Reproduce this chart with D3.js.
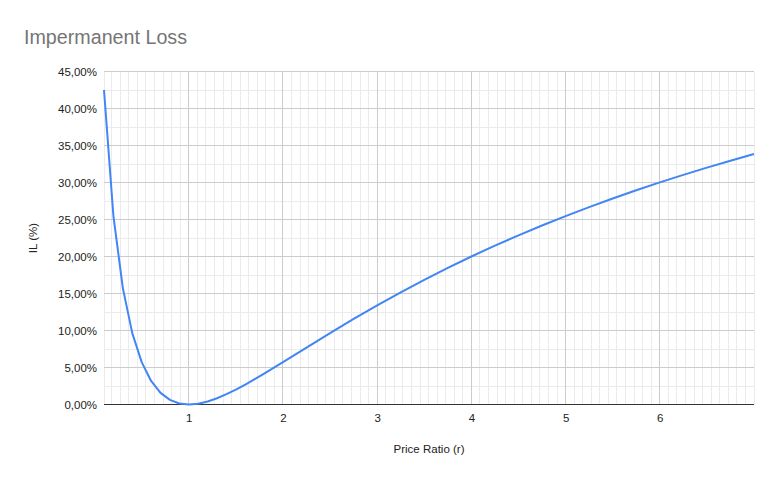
<!DOCTYPE html>
<html>
<head>
<meta charset="utf-8">
<script src="https://cdn.jsdelivr.net/npm/d3@7"></script>
<style>
  html, body { margin: 0; padding: 0; background: #fff; }
  svg { display: block; font-family: "Liberation Sans", Arial, sans-serif; }
</style>
</head>
<body>
<svg id="chart" width="778" height="481"></svg>
<script>
// Price ratio (r) values
const ratios = [0.1, 0.2, 0.3, 0.4, 0.5, 0.6, 0.7, 0.8, 0.9, 1.0,
  1.1, 1.2, 1.3, 1.4, 1.5, 1.6, 1.7, 1.8, 1.9, 2.0,
  2.25, 2.5, 2.75, 3.0, 3.25, 3.5, 3.75, 4.0, 4.25, 4.5, 4.75,
  5.0, 5.25, 5.5, 5.75, 6.0, 6.25, 6.5, 6.75, 7.0];
// Impermanent loss (fraction)
const ilValues = [0.4250, 0.2546, 0.1573, 0.0965, 0.0572, 0.0318, 0.0157, 0.0062, 0.0014, 0.0000,
  0.0011, 0.0041, 0.0085, 0.0140, 0.0202, 0.0270, 0.0342, 0.0417, 0.0494, 0.0572,
  0.0769, 0.0965, 0.1156, 0.1340, 0.1516, 0.1685, 0.1846, 0.2000, 0.2147, 0.2286, 0.2419,
  0.2546, 0.2668, 0.2784, 0.2895, 0.3001, 0.3103, 0.3201, 0.3295, 0.3386];
const xTicks = [1, 2, 3, 4, 5, 6];
const yTicks = [0, 0.05, 0.10, 0.15, 0.20, 0.25, 0.30, 0.35, 0.40, 0.45];
const chartTitle = "Impermanent Loss";
const xTitle = "Price Ratio (r)";
const yTitle = "IL (%)";

const data = ratios.map((r, i) => ({ r, v: ilValues[i] }));
const svg = d3.select("#chart");
const pLeft = 104, pRight = 754, pTop = 71.5, pBottom = 404.5;

const x = d3.scaleLinear().domain([0.1, 7]).range([pLeft, pRight]);
const y = d3.scaleLinear().domain([0, 0.45]).range([pBottom, pTop]);

const fmt = v => (v * 100).toFixed(2).replace(".", ",") + "%";

// minor x gridlines (11 subdivisions per unit)
const minorX = [];
for (let k = 1; k <= 77; k++) {
  const v = k / 11;
  if (v > 0.1 && v < 7 && k % 11 !== 0) minorX.push(v);
}
svg.append("g").selectAll("line").data(minorX).join("line")
  .attr("x1", d => x(d)).attr("x2", d => x(d))
  .attr("y1", pTop).attr("y2", pBottom)
  .attr("stroke", "#ebebeb").attr("stroke-width", 1).attr("shape-rendering", "crispEdges");
// edge lines
svg.append("g").selectAll("line").data([0.1, 7]).join("line")
  .attr("x1", d => x(d)).attr("x2", d => x(d))
  .attr("y1", pTop).attr("y2", pBottom)
  .attr("stroke", "#ebebeb").attr("stroke-width", 1).attr("shape-rendering", "crispEdges");

// minor y gridlines
const minorY = yTicks.slice(0, -1).map(v => v + 0.025);
svg.append("g").selectAll("line").data(minorY).join("line")
  .attr("x1", pLeft).attr("x2", pRight)
  .attr("y1", d => y(d)).attr("y2", d => y(d))
  .attr("stroke", "#ebebeb").attr("stroke-width", 1).attr("shape-rendering", "crispEdges");

// major x gridlines
svg.append("g").selectAll("line").data(xTicks).join("line")
  .attr("x1", d => x(d)).attr("x2", d => x(d))
  .attr("y1", pTop).attr("y2", pBottom)
  .attr("stroke", "#cccccc").attr("stroke-width", 1).attr("shape-rendering", "crispEdges");

// major y gridlines
svg.append("g").selectAll("line").data(yTicks.filter(v => v > 0)).join("line")
  .attr("x1", pLeft).attr("x2", pRight)
  .attr("y1", d => y(d)).attr("y2", d => y(d))
  .attr("stroke", "#cccccc").attr("stroke-width", 1).attr("shape-rendering", "crispEdges");

// baseline
svg.append("line")
  .attr("x1", pLeft).attr("x2", pRight)
  .attr("y1", y(0)).attr("y2", y(0))
  .attr("stroke", "#333333").attr("stroke-width", 1.2).attr("shape-rendering", "crispEdges");

// y axis labels
const yAxis = d3.axisLeft(y).tickValues(yTicks).tickFormat(fmt).tickSize(0).tickPadding(7);
const gy = svg.append("g").attr("transform", `translate(${pLeft},0)`).call(yAxis);
gy.select(".domain").remove();
gy.selectAll("text").attr("font-size", 11.5).attr("fill", "#222").attr("font-family", "Liberation Sans, Arial, sans-serif");

// x axis labels
const xAxis = d3.axisBottom(x).tickValues(xTicks).tickFormat(d3.format("d")).tickSize(0).tickPadding(9);
const gx = svg.append("g").attr("transform", `translate(0,${pBottom})`).call(xAxis);
gx.select(".domain").remove();
gx.selectAll("text").attr("font-size", 11.5).attr("fill", "#222").attr("font-family", "Liberation Sans, Arial, sans-serif");

// line
svg.append("path").datum(data)
  .attr("fill", "none").attr("stroke", "#4285f4").attr("stroke-width", 2)
  .attr("stroke-linejoin", "round")
  .attr("d", d3.line().x(d => x(d.r)).y(d => y(d.v)));

// titles
svg.append("text").attr("x", 24).attr("y", 44).text(chartTitle)
  .attr("font-size", 19.7).attr("fill", "#757575");
svg.append("text").attr("x", (pLeft + pRight) / 2).attr("y", 453).attr("text-anchor", "middle")
  .text(xTitle).attr("font-size", 11.5).attr("fill", "#222");
svg.append("text").attr("transform", `translate(37,${(pTop + pBottom) / 2}) rotate(-90)`)
  .attr("text-anchor", "middle").text(yTitle).attr("font-size", 11.5).attr("fill", "#222");
</script>
</body>
</html>
